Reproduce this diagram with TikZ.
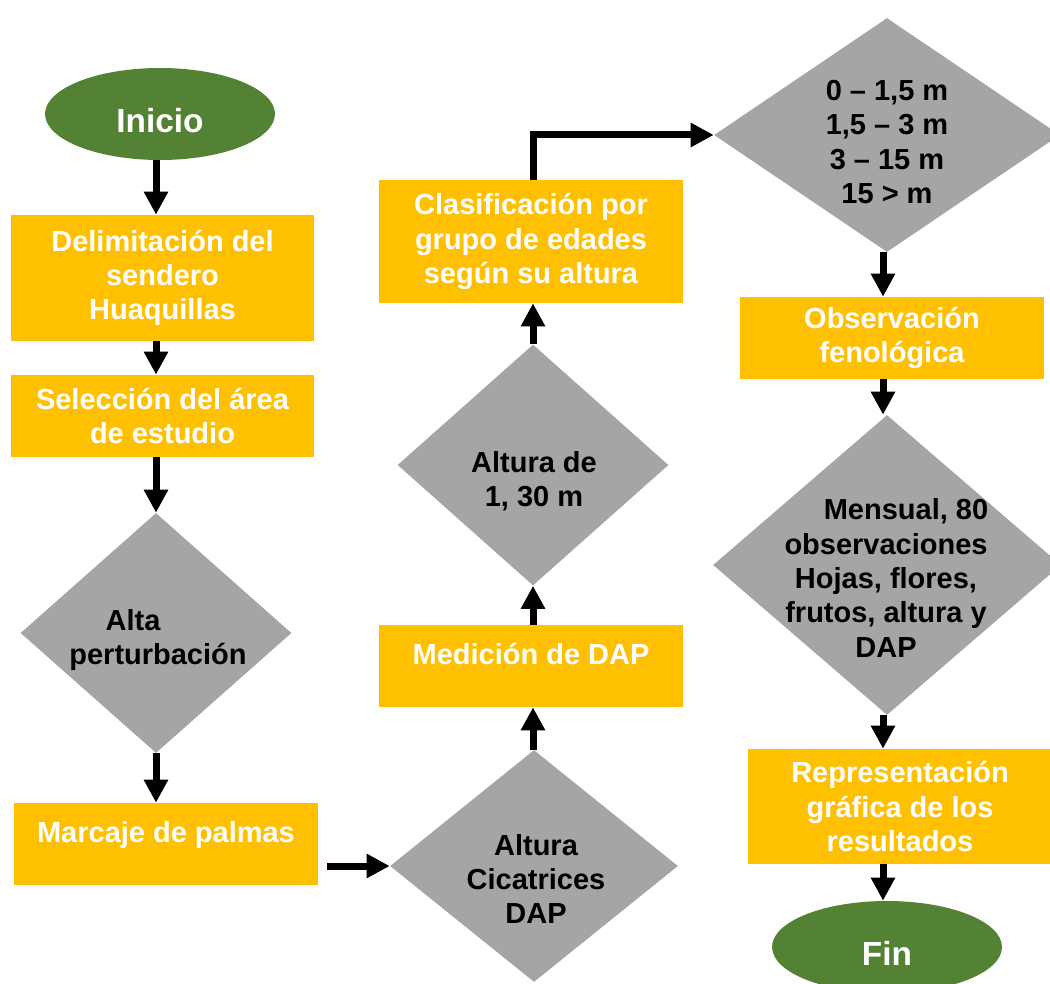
\documentclass[tikz,border=0pt]{standalone}
\usepackage{fontspec}
\setmainfont{Liberation Sans}
\usetikzlibrary{shapes.geometric,arrows.meta}
\definecolor{boxgold}{HTML}{FFC000}
\definecolor{endgreen}{HTML}{548235}
\definecolor{askgray}{HTML}{A5A5A5}
\begin{document}
\begin{tikzpicture}[x=0.02cm, y=-0.02cm,
  font=\bfseries\fontsize{16.5}{19.5}\selectfont,
  stepbox/.style={rectangle, fill=boxgold, inner sep=0pt, align=center, text=white, minimum width=6.08cm},
  endcap/.style={ellipse, fill=endgreen, inner sep=0pt, text=white, minimum width=4.6cm, minimum height=1.84cm, text height=0.75cm, font=\bfseries\fontsize{19}{22}\selectfont},
  ask/.style={diamond, fill=askgray, inner sep=0pt},
  asktext/.style={align=center, text=black, inner sep=0pt},
  arr/.style={line width=0.14cm, -{Triangle[width=0.46cm, length=0.46cm]}}]
\useasboundingbox (0,0) rectangle (1050,983);
\clip (0,0) rectangle (1050,983);
\coordinate (lcol) at (156,0);
\coordinate (mcol) at (533,0);
\coordinate (rcol) at (883,0);
% left column
\node[endcap] (ini) at (160,114){Inicio};
\node[stepbox, minimum height=2.52cm] (delim) at (162.5,278){Delimitación del\\sendero\\Huaquillas};
\node[stepbox, minimum height=1.64cm] (selec) at (162.5,416){Selección del área\\de estudio};
\node[ask, minimum width=5.42cm, minimum height=4.8cm] (pert) at (156,633){};
\node[asktext] (pertt) at (158,640){Alta\hspace*{1cm}\mbox{}\\perturbación};
\node[stepbox, minimum height=1.64cm, text depth=0.49cm] (marc) at (166,844){Marcaje de palmas};
\draw[arr](lcol |- ini.south) -- (lcol |- delim.north);
\draw[arr](lcol |- delim.south) -- (lcol |- selec.north);
\draw[arr](lcol |- selec.south) -- (lcol |- pert.north);
\draw[arr](lcol |- pert.south) -- (lcol |- marc.north);
% middle column
\node[ask, minimum width=5.76cm, minimum height=4.64cm] (cicat) at (534,866){};
\node[asktext] (cicatt) at (536,879){Altura\\Cicatrices\\DAP};
\node[stepbox, minimum height=1.64cm, text depth=0.49cm] (dap) at (531,666){Medición de DAP};
\node[ask, minimum width=5.42cm, minimum height=4.82cm] (alt) at (533,465){};
\node[asktext] (altt) at (534,481){Altura de\\1, 30 m};
\node[stepbox, minimum height=2.46cm] (clas) at (531,241.5){Clasificación por\\grupo de edades\\según su altura};
\draw[arr, shorten <=0.18cm](marc.east |- cicat.west) -- (cicat.west);
\draw[arr](mcol |- cicat.north) -- (mcol |- dap.south);
\draw[arr](mcol |- dap.north) -- (mcol |- alt.south);
\draw[arr](mcol |- alt.north) -- (mcol |- clas.south);
% right column
\node[ask, minimum width=6.92cm, minimum height=4.68cm] (rang) at (887,135){};
\node[asktext] (rangt) at (887,142){0 – 1,5 m\\1,5 – 3 m\\3 – 15 m\\15 > m};
\node[stepbox, minimum height=1.64cm] (obs) at (892,338){Observación\\fenológica};
\node[ask, minimum width=6.96cm, minimum height=6cm] (mens) at (887,565){};
\node[asktext] (menst) at (886,578){\hspace*{0.8cm}Mensual, 80\\observaciones\\Hojas, flores,\\frutos, altura y\\DAP};
\node[stepbox, minimum height=2.3cm] (repr) at (900,806.5){Representación\\gráfica de los\\resultados};
\node[endcap] (fin) at (887,947){Fin};
\draw[arr](mcol |- clas.north) |- (rang.west);
\draw[arr](rcol |- rang.south) -- (rcol |- obs.north);
\draw[arr](rcol |- obs.south) -- (rcol |- mens.north);
\draw[arr](rcol |- mens.south) -- (rcol |- repr.north);
\draw[arr](rcol |- repr.south) -- (rcol |- fin.north);
\end{tikzpicture}
\end{document}
